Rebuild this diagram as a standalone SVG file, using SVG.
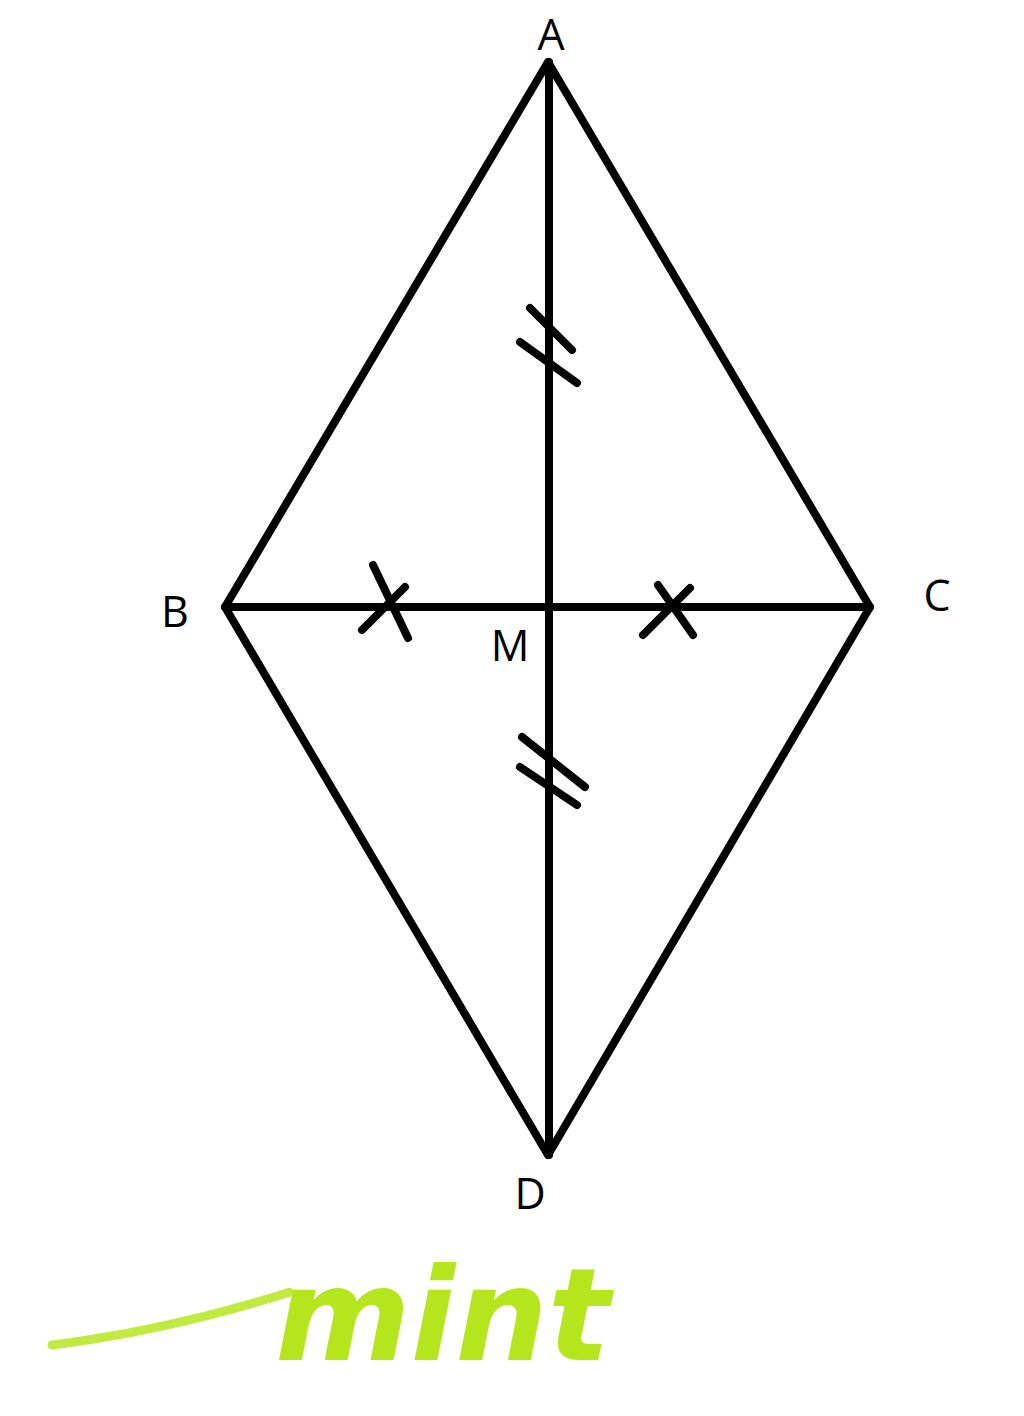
<svg xmlns="http://www.w3.org/2000/svg" width="1024" height="1416" viewBox="0 0 1024 1416">
<style>
.ln{stroke:#000;stroke-width:8;stroke-linecap:round;stroke-linejoin:round;fill:none}
.tk{stroke:#000;stroke-width:8;stroke-linecap:round;fill:none}
.lb{font-family:"Open Sans","Noto Sans","DejaVu Sans",sans-serif;font-size:43px;fill:#000;text-anchor:middle}
</style>
<rect width="1024" height="1416" fill="#fff"/>
<g id="connectors">
<path class="ln" d="M548,62 L225,607 L548,1155 L870,607 Z"/>
<line class="ln" x1="549" y1="62" x2="549" y2="1155"/>
<line class="ln" x1="225" y1="607" x2="870" y2="607"/>
<line class="tk" x1="530" y1="308" x2="572" y2="350"/>
<line class="tk" x1="520" y1="342" x2="577" y2="383"/>
<line class="tk" x1="522" y1="737" x2="585" y2="787"/>
<line class="tk" x1="520" y1="767" x2="577" y2="805"/>
<line class="tk" x1="373" y1="565" x2="408" y2="638"/>
<line class="tk" x1="362" y1="630" x2="405" y2="587"/>
<line class="tk" x1="658" y1="585" x2="693" y2="635"/>
<line class="tk" x1="643" y1="635" x2="690" y2="588"/>
</g>
<g id="node-A"><text class="lb" x="551" y="50">A</text></g>
<g id="node-B"><text class="lb" x="175" y="627">B</text></g>
<g id="node-C"><text class="lb" x="937" y="611">C</text></g>
<g id="node-D"><text class="lb" x="530" y="1209">D</text></g>
<g id="node-M"><text class="lb" x="510" y="661">M</text></g>
<g id="logo">
<path d="M52,1345 Q170,1330 290,1292" stroke="#b5e61d" stroke-width="9" stroke-linecap="round" fill="none" stroke-dasharray="3 3" opacity="0.85"/>
<text x="275" y="1360" font-family="DejaVu Sans, sans-serif" font-weight="bold" font-style="italic" font-size="128" fill="#b5e61d" textLength="335" lengthAdjust="spacingAndGlyphs">mint</text>
</g>
</svg>
